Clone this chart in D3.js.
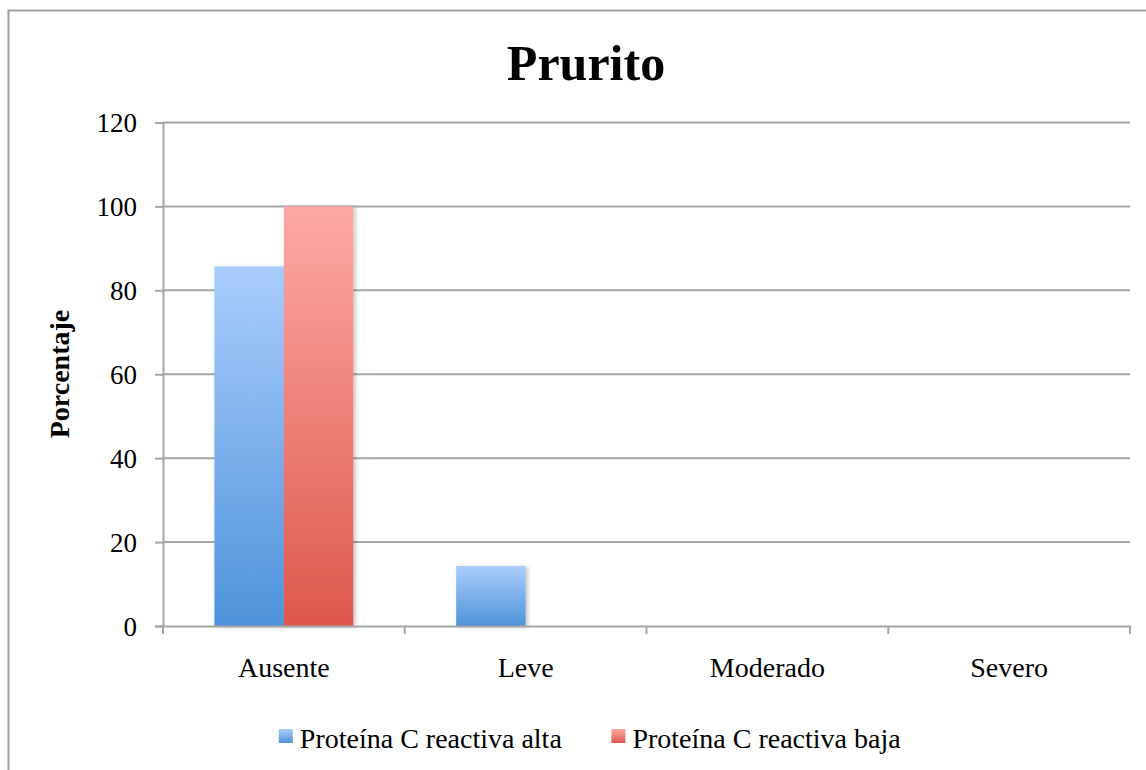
<!DOCTYPE html>
<html>
<head>
<meta charset="utf-8">
<script src="https://cdn.jsdelivr.net/npm/d3@7"></script>
<style>
  body { margin: 0; background: #fff; }
  svg { display: block; }
  svg text { font-family: "Liberation Serif", "DejaVu Serif", serif; }
</style>
</head>
<body>
<div id="chart"></div>
<script>
(function () {

	var categories = ["Ausente", "Leve", "Moderado", "Severo"];
	var seriesNames = ["Proteína C reactiva alta", "Proteína C reactiva baja"];
	var altaValues = [85.7, 14.3, 0, 0];
	var bajaValues = [100, 0, 0, 0];
	var yTicks = [0, 20, 40, 60, 80, 100, 120];

	var values = [altaValues, bajaValues];
	var width = 1146, height = 770;
	var left = 163, right = 1130, top = 122.5, bottom = 626;
	var centerX = 586;
	var serif = "'Liberation Serif', 'DejaVu Serif', serif";

	var svg = d3.select("#chart")
		.append("svg")
		.attr("width", width)
		.attr("height", height);

	var defs = svg.append("defs");
	var grads = [["#aacdfd", "#4f93da"], ["#fea9a6", "#dd584b"]];
	grads.forEach(function (g, i) {
		var lg = defs.append("linearGradient")
			.attr("id", "grad" + i)
			.attr("x1", 0).attr("y1", 0).attr("x2", 0).attr("y2", 1);
		lg.append("stop").attr("offset", "0%").attr("stop-color", g[0]);
		lg.append("stop").attr("offset", "100%").attr("stop-color", g[1]);
	});
	defs.append("filter")
		.attr("id", "shadow")
		.attr("x", "-20%").attr("y", "-20%").attr("width", "140%").attr("height", "140%")
		.append("feDropShadow")
		.attr("dx", 2).attr("dy", 1)
		.attr("stdDeviation", 2)
		.attr("flood-color", "#000")
		.attr("flood-opacity", 0.25);

	// outer frame
	svg.append("rect")
		.attr("x", 8.5).attr("y", 10.5)
		.attr("width", 1160).attr("height", 800)
		.attr("fill", "none")
		.attr("stroke", "#a0a0a0")
		.attr("stroke-width", 2);

	var x0 = d3.scaleBand()
		.domain(categories)
		.range([left, right])
		.padding(0);

	var x1 = d3.scaleBand()
		.domain(d3.range(seriesNames.length))
		.range([0, x0.bandwidth()])
		.paddingInner(0)
		.paddingOuter(0.74);

	var y = d3.scaleLinear()
		.domain([0, 120])
		.range([bottom, top]);

	// gridlines
	svg.append("g")
		.selectAll("line")
		.data(yTicks.filter(function (d) { return d > 0; }))
		.enter().append("line")
		.attr("x1", left).attr("x2", right)
		.attr("y1", function (d) { return y(d); })
		.attr("y2", function (d) { return y(d); })
		.attr("stroke", "#a6a6a6")
		.attr("stroke-width", 2);

	// bars
	var group = svg.append("g")
		.selectAll("g")
		.data(categories)
		.enter().append("g")
		.attr("transform", function (d) { return "translate(" + x0(d) + ",0)"; });

	group.selectAll("rect")
		.data(function (d, ci) {
			return values.map(function (v, si) { return { s: si, v: v[ci] }; })
				.filter(function (e) { return e.v > 0; });
		})
		.enter().append("rect")
		.attr("x", function (d) { return x1(d.s); })
		.attr("width", x1.bandwidth())
		.attr("y", function (d) { return y(d.v); })
		.attr("height", function (d) { return y(0) - y(d.v); })
		.attr("fill", function (d) { return "url(#grad" + d.s + ")"; })
		.attr("filter", "url(#shadow)");

	// y axis
	var yAxis = svg.append("g")
		.attr("transform", "translate(" + left + ",0)")
		.call(d3.axisLeft(y).tickValues(yTicks).tickSize(8).tickPadding(18));
	yAxis.select(".domain").attr("stroke", "#a6a6a6").attr("stroke-width", 2);
	yAxis.selectAll(".tick line").attr("stroke", "#a6a6a6").attr("stroke-width", 2);
	yAxis.selectAll(".tick text")
		.attr("font-family", serif)
		.attr("font-size", 27)
		.attr("fill", "#000")
		.attr("dy", "0.34em");

	// x axis
	var xAxis = svg.append("g")
		.attr("transform", "translate(0," + bottom + ")")
		.call(d3.axisBottom(x0).tickSize(0).tickPadding(0));
	xAxis.select(".domain").attr("stroke", "#a6a6a6").attr("stroke-width", 2);
	xAxis.selectAll(".tick text")
		.attr("font-family", serif)
		.attr("font-size", 28)
		.attr("fill", "#000")
		.attr("dy", 0)
		.attr("y", 51);
	// category boundary ticks
	xAxis.append("g")
		.selectAll("line")
		.data(categories.concat([null]))
		.enter().append("line")
		.attr("x1", function (d) { return d === null ? right : x0(d); })
		.attr("x2", function (d) { return d === null ? right : x0(d); })
		.attr("y1", 0).attr("y2", 8)
		.attr("stroke", "#a6a6a6")
		.attr("stroke-width", 2);

	// title
	svg.append("text")
		.attr("x", centerX)
		.attr("y", 80)
		.attr("text-anchor", "middle")
		.attr("font-family", serif)
		.attr("font-size", 50)
		.attr("font-weight", "bold")
		.text("Prurito");

	// y label
	svg.append("text")
		.attr("transform", "translate(69,374) rotate(-90)")
		.attr("text-anchor", "middle")
		.attr("font-family", serif)
		.attr("font-size", 28)
		.attr("font-weight", "bold")
		.text("Porcentaje");

	// legend
	var legend = svg.append("g");
	var item = legend.selectAll("g")
		.data(seriesNames)
		.enter().append("g");
	item.append("rect")
		.attr("width", 14).attr("height", 14)
		.attr("y", 729)
		.attr("fill", function (d, i) { return "url(#grad" + i + ")"; });
	item.append("text")
		.attr("x", 21)
		.attr("y", 748)
		.attr("font-family", serif)
		.attr("font-size", 28)
		.attr("fill", "#000")
		.text(function (d) { return d; });

	var offset = 0, gap = 49;
	item.each(function () {
		var w = this.getBBox().width;
		d3.select(this).attr("data-x", offset);
		offset += w + gap;
	});
	var total = offset - gap;
	item.attr("transform", function () {
		return "translate(" + (590 - total / 2 + (+this.getAttribute("data-x"))) + ",0)";
	});

})();
</script>
</body>
</html>
